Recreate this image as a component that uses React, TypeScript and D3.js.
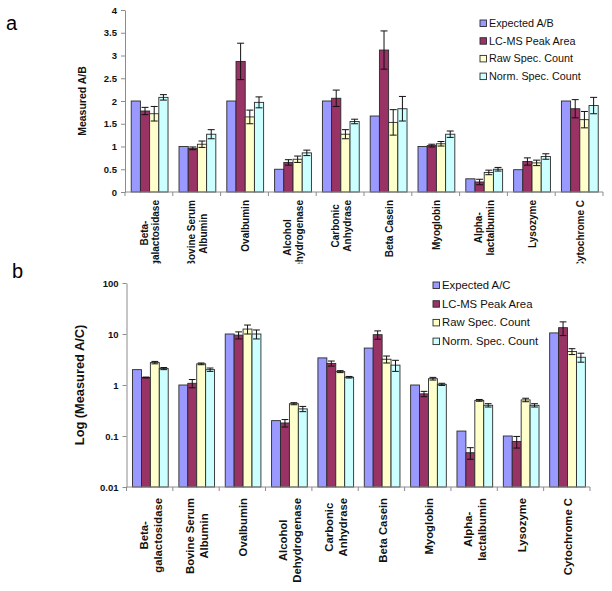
import { useEffect, useRef } from "react";
import * as d3 from "d3";

// protein names (line breaks as in the original axis labels)
const proteins = [
  ["Beta-", "galactosidase"],
  ["Bovine Serum", "Albumin"],
  ["Ovalbumin"],
  ["Alcohol", "Dehydrogenase"],
  ["Carbonic", "Anhydrase"],
  ["Beta Casein"],
  ["Myoglobin"],
  ["Alpha-", "lactalbumin"],
  ["Lysozyme"],
  ["Cytochrome C"],
];

const seriesA = ["Expected A/B", "LC-MS Peak Area", "Raw Spec. Count", "Norm. Spec. Count"];
const seriesB = ["Expected A/C", "LC-MS Peak Area", "Raw Spec. Count", "Norm. Spec. Count"];
const colors = ["#9999FF", "#993366", "#FFFFCC", "#CCFFFF"];

// panel a : measured A/B
const expectedA = [2, 1, 2, 0.5, 2, 1.67, 1, 0.29, 0.49, 2];
const lcmsA = [1.78, 0.96, 2.87, 0.65, 2.06, 3.12, 1.02, 0.22, 0.67, 1.83];
const lcmsErrA = [0.08, 0.03, 0.4, 0.06, 0.18, 0.42, 0.03, 0.06, 0.08, 0.2];
const rawA = [1.72, 1.05, 1.65, 0.72, 1.27, 1.53, 1.06, 0.43, 0.64, 1.59];
const rawErrA = [0.16, 0.07, 0.15, 0.07, 0.1, 0.28, 0.05, 0.05, 0.06, 0.18];
const normA = [2.08, 1.27, 1.97, 0.86, 1.55, 1.83, 1.27, 0.5, 0.78, 1.9];
const normErrA = [0.06, 0.1, 0.12, 0.06, 0.05, 0.27, 0.07, 0.04, 0.06, 0.18];
const yTicksA = [0, 0.5, 1, 1.5, 2, 2.5, 3, 3.5, 4];

// panel b : measured A/C (log)
const expectedB = [2, 1, 10, 0.2, 3.4, 5.3, 1, 0.125, 0.1, 10.5];
const lcmsB = [1.4, 1.08, 9.5, 0.18, 2.65, 9.7, 0.67, 0.047, 0.078, 13.3];
const lcmsErrB = [0.03, 0.2, 1.5, 0.03, 0.3, 1.8, 0.08, 0.012, 0.02, 4];
const rawB = [2.75, 2.6, 12.5, 0.43, 1.83, 3.2, 1.33, 0.5, 0.51, 4.55];
const rawErrB = [0.15, 0.1, 2.5, 0.02, 0.08, 0.5, 0.08, 0.02, 0.04, 0.6];
const normB = [2.1, 2.0, 10, 0.34, 1.42, 2.45, 1.03, 0.4, 0.4, 3.5];
const normErrB = [0.1, 0.15, 2, 0.04, 0.05, 0.6, 0.05, 0.03, 0.03, 0.7];
const yTicksB = [0.01, 0.1, 1, 10, 100];

const FONT = "'Liberation Sans', Arial, sans-serif";
const AXIS = "#8c8c8c";

type Panel = {
  values: number[][];
  errors: (number[] | null)[];
  y: any;
  ticks: number[];
  base: number;
  x0: number;
  x1: number;
  names: string[];
  legend: [number, number, number];
  legendSize: number;
  labelTop: number;
  labelSize: number;
  clipBottom: number | null;
  title: string;
  titleX: number;
  titleSize: number;
  id: string;
};

function drawPanel(svg: any, p: Panel) {
  const g = svg.append("g");
  const x = d3.scaleBand<number>().domain(d3.range(proteins.length)).range([p.x0, p.x1]);
  const step = x.bandwidth();
  const inner = d3.scaleBand<number>().domain([0, 1, 2, 3]).range([step * 0.13, step * 0.9]);
  const bw = inner.bandwidth();
  const [y0, y1] = p.y.range();

  // bars
  p.values.forEach((vals, s) => {
    g.append("g")
      .selectAll("rect")
      .data(vals)
      .join("rect")
      .attr("x", (_d: number, i: number) => x(i)! + inner(s)!)
      .attr("y", (d: number) => p.y(d))
      .attr("width", bw)
      .attr("height", (d: number) => p.y(p.base) - p.y(d))
      .attr("fill", colors[s])
      .attr("stroke", "#2a2a2a")
      .attr("stroke-width", 0.9);
  });

  // error bars
  p.errors.forEach((errs, s) => {
    if (!errs) return;
    const vals = p.values[s];
    const eg = g.append("g").attr("stroke", "#111").attr("stroke-width", 1);
    errs.forEach((e, i) => {
      const cx = x(i)! + inner(s)! + bw / 2;
      const hi = p.y(vals[i] + e);
      const lo = p.y(Math.max(vals[i] - e, p.base));
      const cw = bw * 0.38;
      eg.append("line").attr("x1", cx).attr("x2", cx).attr("y1", hi).attr("y2", lo);
      eg.append("line").attr("x1", cx - cw).attr("x2", cx + cw).attr("y1", hi).attr("y2", hi);
      eg.append("line").attr("x1", cx - cw).attr("x2", cx + cw).attr("y1", lo).attr("y2", lo);
    });
  });

  // y axis
  const ya = g
    .append("g")
    .attr("transform", `translate(${p.x0},0)`)
    .call(d3.axisLeft(p.y).tickValues(p.ticks).tickSize(4).tickSizeOuter(0).tickFormat((d: any) => String(+d)));
  ya.select(".domain").attr("stroke", AXIS);
  ya.selectAll(".tick line").attr("stroke", AXIS);
  ya.selectAll(".tick text")
    .attr("fill", "#111")
    .attr("font-family", FONT)
    .attr("font-weight", "bold")
    .attr("font-size", 9.5)
    .attr("x", -8);

  // x axis
  const xa = g.append("g").attr("transform", `translate(0,${y0})`);
  xa.append("line").attr("x1", p.x0).attr("x2", p.x1).attr("stroke", AXIS);
  xa.selectAll("line.t")
    .data(d3.range(proteins.length + 1))
    .join("line")
    .attr("class", "t")
    .attr("x1", (i: number) => p.x0 + i * step)
    .attr("x2", (i: number) => p.x0 + i * step)
    .attr("y1", 0)
    .attr("y2", 4)
    .attr("stroke", AXIS);

  // category labels (rotated, centred lines, block starts under the axis)
  let lg = g.append("g");
  if (p.clipBottom !== null) {
    svg
      .append("clipPath")
      .attr("id", p.id)
      .append("rect")
      .attr("x", 0)
      .attr("y", 0)
      .attr("width", 612)
      .attr("height", p.clipBottom);
    lg = lg.attr("clip-path", `url(#${p.id})`);
  }
  const lh = p.labelSize * 1.2;
  proteins.forEach((lines, i) => {
    const cx = x(i)! + step / 2 + 1;
    const t = lg.append("g").attr("transform", `translate(${cx},${p.labelTop}) rotate(-90)`);
    const texts = lines.map((ln, j) =>
      t
        .append("text")
        .attr("text-anchor", "middle")
        .attr("y", (j - (lines.length - 1) / 2) * lh + p.labelSize * 0.36)
        .attr("font-family", FONT)
        .attr("font-weight", "bold")
        .attr("font-size", p.labelSize)
        .attr("fill", "#111")
        .text(ln)
    );
    const maxLen = d3.max(texts, (tx: any) => (tx.node() as SVGTextElement).getComputedTextLength()) || 0;
    texts.forEach((tx: any) => tx.attr("x", -maxLen / 2));
  });

  // y title
  g.append("text")
    .attr("transform", `translate(${p.titleX},${(y0 + y1) / 2}) rotate(-90)`)
    .attr("text-anchor", "middle")
    .attr("font-family", FONT)
    .attr("font-weight", "bold")
    .attr("font-size", p.titleSize)
    .attr("fill", "#111")
    .text(p.title);

  // legend
  const [lx, ly, gap] = p.legend;
  p.names.forEach((nm, s) => {
    const cy = ly + s * gap;
    g.append("rect")
      .attr("x", lx - 3)
      .attr("y", cy - 3)
      .attr("width", 6.5)
      .attr("height", 6.5)
      .attr("fill", colors[s])
      .attr("stroke", "#2a2a2a")
      .attr("stroke-width", 0.9);
    g.append("text")
      .attr("x", lx + 6)
      .attr("y", cy + 4)
      .attr("font-family", FONT)
      .attr("font-size", p.legendSize)
      .attr("fill", "#111")
      .text(nm);
  });
}

const App = () => {
  const ref = useRef<SVGSVGElement>(null);

  useEffect(() => {
    const svg = d3.select(ref.current);
    svg.selectAll("*").remove();
    svg.append("rect").attr("width", 612).attr("height", 591).attr("fill", "#fff");

    drawPanel(svg, {
      values: [expectedA, lcmsA, rawA, normA],
      errors: [null, lcmsErrA, rawErrA, normErrA],
      y: d3.scaleLinear().domain([0, 4]).range([192, 10]),
      ticks: yTicksA,
      base: 0,
      x0: 125,
      x1: 603,
      names: seriesA,
      legend: [483, 23, 17.7],
      legendSize: 10.8,
      labelTop: 200,
      labelSize: 10,
      clipBottom: 263.5,
      title: "Measured A/B",
      titleX: 86,
      titleSize: 10.5,
      id: "clipA",
    });

    drawPanel(svg, {
      values: [expectedB, lcmsB, rawB, normB],
      errors: [null, lcmsErrB, rawErrB, normErrB],
      y: d3.scaleLog().domain([0.01, 100]).range([487, 283]),
      ticks: yTicksB,
      base: 0.01,
      x0: 126.5,
      x1: 590,
      names: seriesB,
      legend: [436, 285, 18.7],
      legendSize: 11.3,
      labelTop: 498,
      labelSize: 11.3,
      clipBottom: null,
      title: "Log (Measured A/C)",
      titleX: 84,
      titleSize: 12.8,
      id: "clipB",
    });

    svg.append("text").attr("x", 6).attr("y", 30).attr("font-family", FONT).attr("font-size", 20).text("a");
    svg.append("text").attr("x", 12).attr("y", 278).attr("font-family", FONT).attr("font-size", 20).text("b");
  }, []);

  return <svg ref={ref} width={612} height={591} style={{ position: "absolute", left: 0, top: 0 }} />;
};

export default App;
